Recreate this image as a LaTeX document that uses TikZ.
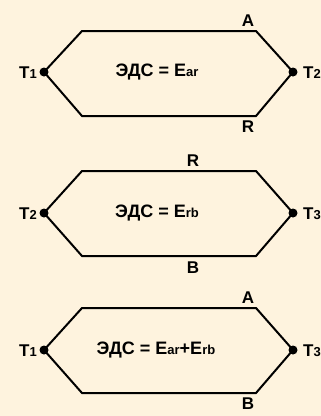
\documentclass[tikz,border=0pt]{standalone}
\usepackage{fontspec}
\setmainfont{Liberation Sans}
\definecolor{bg}{HTML}{FEF3DE}
\newcommand{\sbs}[1]{{\fontsize{13}{13}\selectfont #1}}
\tikzset{
  wire/.style={line width=2pt, line join=miter},
  tdot/.style={circle, fill=black, inner sep=0pt, minimum size=9pt},
  lbl/.style={font=\fontsize{17}{17}\selectfont\bfseries, inner sep=0pt},
  eq/.style={font=\fontsize{18}{18}\selectfont\bfseries, inner sep=0pt}
}
\begin{document}
\begin{tikzpicture}[x=1pt,y=-1pt]
\fill[bg] (0,0) rectangle (321,416);
\useasboundingbox (0,0) rectangle (321,416);
% hexagon 1
\coordinate (a1) at (82,31); \coordinate (b1) at (256,31);
\coordinate (c1) at (256,116); \coordinate (d1) at (82,116);
\node[tdot] (L1) at (44,72) {};
\node[tdot] (R1) at (293,72) {};
\draw[wire] (L1.center) -- (a1) -- (b1) -- (R1.center) -- (c1) -- (d1) -- cycle;
\node[lbl] (t1a) at (28,73) {T\sbs{1}};
\node[lbl] (t2a) at (312,73) {T\sbs{2}};
\node[lbl] (A1) at (248,21) {A};
\node[lbl] (R1l) at (248,127) {R};
\node[eq] (e1) at (157,72) {ЭДС = E\sbs{ar}};
% hexagon 2
\coordinate (a2) at (82,171); \coordinate (b2) at (256,171);
\coordinate (c2) at (256,256); \coordinate (d2) at (82,256);
\node[tdot] (L2) at (44,213) {};
\node[tdot] (R2) at (293,213) {};
\draw[wire] (L2.center) -- (a2) -- (b2) -- (R2.center) -- (c2) -- (d2) -- cycle;
\node[lbl] (t2b) at (28,214) {T\sbs{2}};
\node[lbl] (t3b) at (312,214) {T\sbs{3}};
\node[lbl] (R2l) at (193,161) {R};
\node[lbl] (B2) at (193,268) {B};
\node[eq] (e2) at (157,213) {ЭДС = E\sbs{rb}};
% hexagon 3
\coordinate (a3) at (82,308); \coordinate (b3) at (256,308);
\coordinate (c3) at (256,393); \coordinate (d3) at (82,393);
\node[tdot] (L3) at (44,350) {};
\node[tdot] (R3) at (293,350) {};
\draw[wire] (L3.center) -- (a3) -- (b3) -- (R3.center) -- (c3) -- (d3) -- cycle;
\node[lbl] (t1c) at (28,351) {T\sbs{1}};
\node[lbl] (t3c) at (312,351) {T\sbs{3}};
\node[lbl] (A3) at (248,298) {A};
\node[lbl] (B3) at (248,404) {B};
\node[eq] (e3) at (156,350) {ЭДС = E\sbs{ar}+E\sbs{rb}};
\end{tikzpicture}
\end{document}
